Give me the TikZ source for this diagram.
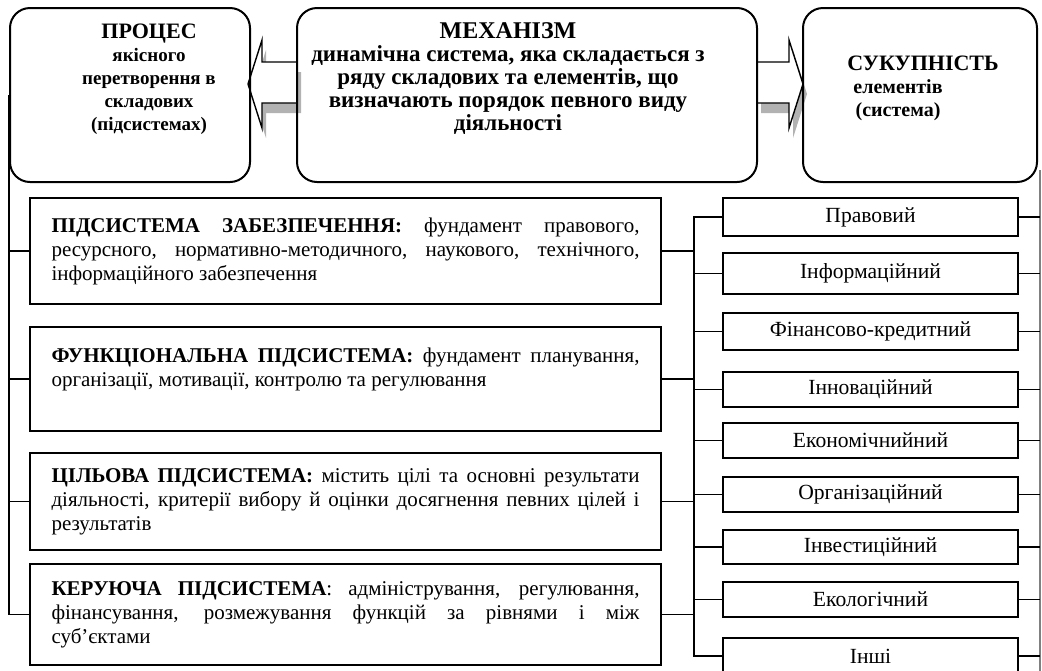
\documentclass[tikz,border=0pt]{standalone}
\usepackage{fontspec}
\setmainfont{Liberation Serif}
\usetikzlibrary{positioning}
\tolerance=9999
\tikzset{
  topbox/.style={draw, line width=1pt, rounded corners=10pt, inner sep=0pt},
  toptext/.style={align=center, font=\fontsize{10}{11.5}\selectfont\bfseries},
  subbox/.style={draw, line width=1pt, text width=294pt, inner xsep=10.75pt, inner ysep=2pt, align=justify, font=\fontsize{10.5}{12}\selectfont},
  elbox/.style={draw, line width=1pt, minimum width=147.5pt, inner sep=0pt, font=\fontsize{10.8}{12}\selectfont},
  link/.style={line width=0.8pt},
  outline/.style={line width=0.6pt, gray},
  blockarrow/.style={draw, line width=0.7pt, fill=white},
  arrowshadow/.style={fill=gray!60}
}
\begin{document}
\begin{tikzpicture}[x=0.5pt,y=-0.5pt]
\useasboundingbox (0,0) rectangle (1042,670);

\fill[arrowshadow] (301,72) -- (266,72) -- (266,50) -- (252,94) -- (266,138) -- (266,113) -- (301,113) -- cycle;
\path[blockarrow] (297,62) -- (262,62) -- (262,40) -- (248,84) -- (262,128) -- (262,103) -- (297,103);
\fill[arrowshadow] (761,72) -- (793,72) -- (793,50) -- (807,94) -- (793,138) -- (793,113) -- (761,113) -- cycle;
\path[blockarrow] (757,62) -- (789,62) -- (789,40) -- (803,84) -- (789,128) -- (789,103) -- (757,103);

\node[topbox, minimum width=120pt, minimum height=87pt] (proc) at (130,95) {};
\node[topbox, minimum width=230pt, minimum height=87pt] (mech) at (527,95) {};
\node[topbox, minimum width=117pt, minimum height=87pt] (suk) at (920,95) {};
\node[toptext, font=\fontsize{9.5}{11.5}\selectfont\bfseries] (proct) at (149,79) {{\fontsize{11}{11.5}\selectfont ПРОЦЕС}\\якісного\\перетворення в\\складових\\(підсистемах)};
\node[toptext, font=\fontsize{11.5}{11.5}\selectfont\bfseries] (mecht) at (508,79) {{\fontsize{12}{11.5}\selectfont МЕХАНІЗМ}\\динамічна система, яка складається з\\ряду складових та елементів, що\\визначають порядок певного виду\\діяльності};
\node[toptext] (sukt) at (898,88) {{\fontsize{11}{11.5}\selectfont\hspace*{25pt}СУКУПНІСТЬ}\\елементів\\(система)};

\node[subbox, minimum height=53pt] (zab) at (345.5,251) {\textbf{ПІДСИСТЕМА ЗАБЕЗПЕЧЕННЯ:} фундамент правового, \linebreak ресурсного, нормативно-методичного, наукового, технічного, \linebreak інформаційного забезпечення};
\node[subbox, minimum height=52pt] (fun) at (345.5,379) {\textbf{ФУНКЦІОНАЛЬНА ПІДСИСТЕМА:} фундамент планування, \linebreak організації, мотивації, контролю та регулювання\par\mbox{}};
\node[subbox, minimum height=48.5pt] (cil) at (345.5,501.5) {\textbf{ЦІЛЬОВА ПІДСИСТЕМА:} містить цілі та основні результати \linebreak діяльності, критерії вибору й оцінки досягнення певних цілей і \linebreak результатів};
\node[subbox, minimum height=50.5pt] (ker) at (345.5,614.5) {\textbf{КЕРУЮЧА ПІДСИСТЕМА}: адміністрування, регулювання, \linebreak фінансування, розмежування функцій за рівнями і між \linebreak суб’єктами};

\node[elbox, minimum height=19pt] (e1) at (870.5,217) {Правовий};
\node[elbox, minimum height=20.5pt] (e2) at (870.5,273.5) {Інформаційний};
\node[elbox, minimum height=18.5pt] (e3) at (870.5,331.5) {Фінансово-кредитний};
\node[elbox, minimum height=17.5pt] (e4) at (870.5,389.5) {Інноваційний};
\node[elbox, minimum height=17.5pt] (e5) at (870.5,440.5) {Економічнийний};
\node[elbox, minimum height=17.5pt] (e6) at (870.5,494.5) {Організаційний};
\node[elbox, minimum height=17pt] (e7) at (870.5,547) {Інвестиційний};
\node[elbox, minimum height=17.5pt] (e8) at (870.5,599.5) {Екологічний};
\node[elbox, minimum height=18pt] (e9) at (870.5,656) {Інші};

\coordinate (sp) at (694,217);
\coordinate (rt) at (1040,170);
\coordinate (rb) at (1040,672);

\draw[link] (proc.west) -- (proc.west |- ker.west) -- (ker.west);
\draw[link] (zab.west) -- (zab.west -| proc.west);
\draw[link] (fun.west) -- (fun.west -| proc.west);
\draw[link] (cil.west) -- (cil.west -| proc.west);

\draw[link] (e1.west) -- (e1.west -| sp) -- (e9.west -| sp) -- (e9.west);
\draw[link] (e2.west) -- (e2.west -| sp);
\draw[link] (e3.west) -- (e3.west -| sp);
\draw[link] (e4.west) -- (e4.west -| sp);
\draw[link] (e5.west) -- (e5.west -| sp);
\draw[link] (e6.west) -- (e6.west -| sp);
\draw[link] (e7.west) -- (e7.west -| sp);
\draw[link] (e8.west) -- (e8.west -| sp);
\draw[link] (zab.east) -- (zab.east -| sp);
\draw[link] (fun.east) -- (fun.east -| sp);
\draw[link] (cil.east) -- (cil.east -| sp);
\draw[link] (ker.east) -- (ker.east -| sp);

\draw[outline] (rt) -- (rb);
\draw[link] (e1.east) -- (e1.east -| rt);
\draw[link] (e2.east) -- (e2.east -| rt);
\draw[link] (e3.east) -- (e3.east -| rt);
\draw[link] (e4.east) -- (e4.east -| rt);
\draw[link] (e5.east) -- (e5.east -| rt);
\draw[link] (e6.east) -- (e6.east -| rt);
\draw[link] (e7.east) -- (e7.east -| rt);
\draw[link] (e8.east) -- (e8.east -| rt);
\draw[link] (e9.east) -- (e9.east -| rt);
\end{tikzpicture}
\end{document}
